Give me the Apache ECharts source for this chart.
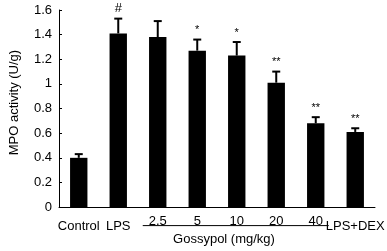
<!DOCTYPE html>
<html>
<head>
<meta charset="UTF-8">
<title>MPO activity</title>
<script src="https://cdn.jsdelivr.net/npm/echarts@6/dist/echarts.min.js"></script>
<style>
  * { margin: 0; padding: 0; }
  body { background: #fff; }
</style>
</head>
<body>
<div id="main" style="width:387px;height:251px;"></div>
<script>
var categories = ['Control', 'LPS', '2.5', '5', '10', '20', '40', 'LPS+DEX'];
var doseLabels = ['', '', '2.5', '5', '10', '20', '40', ''];
var meanValues = [0.40, 1.41, 1.38, 1.27, 1.23, 1.01, 0.68, 0.61];
var errValues = [0.03, 0.12, 0.13, 0.09, 0.11, 0.09, 0.05, 0.03];
var sigMarks = ['', '#', '', '*', '*', '**', '**', '**'];

var font = 'Liberation Sans, Arial, sans-serif';
var chart = echarts.init(document.getElementById('main'));

var errData = [];
for (var i = 0; i < categories.length; i++) {
  errData.push([i, meanValues[i], meanValues[i] + errValues[i], sigMarks[i]]);
}

var option = {
  animation: false,
  backgroundColor: '#fff',
  grid: { left: 48, right: 12, top: 10, bottom: 35 },
  xAxis: [{
    type: 'category',
    data: categories,
    axisLine: { lineStyle: { color: '#000', width: 1 } },
    axisTick: { inside: true, length: 3, lineStyle: { color: '#000' } },
    axisLabel: {
      color: '#000', fontFamily: font, fontSize: 13, margin: 13, interval: 0,
      formatter: function (v) { return doseLabels[categories.indexOf(v)] ? '' : v; }
    }
  }, {
    type: 'category',
    data: categories,
    position: 'bottom',
    axisLine: { show: false },
    axisTick: { show: false },
    axisLabel: {
      color: '#000', fontFamily: font, fontSize: 13, margin: 8, interval: 0,
      formatter: function (v) { return doseLabels[categories.indexOf(v)]; }
    },
    name: 'Gossypol (mg/kg)',
    nameLocation: 'middle',
    nameGap: 21,
    nameTextStyle: { color: '#000', fontFamily: font, fontSize: 13, padding: [0, 0, 0, 14] }
  }],
  yAxis: {
    type: 'value',
    min: 0, max: 1.6, interval: 0.2,
    name: 'MPO activity (U/g)',
    nameLocation: 'middle',
    nameGap: 38,
    nameTextStyle: { color: '#000', fontFamily: font, fontSize: 13, padding: [0, 0, 0, 12] },
    axisLine: { show: true, lineStyle: { color: '#000', width: 1 } },
    axisTick: { show: true, inside: true, length: 3, lineStyle: { color: '#000' } },
    axisLabel: { color: '#000', fontFamily: font, fontSize: 13, margin: 7 },
    splitLine: { show: false }
  },
  series: [{
    type: 'bar',
    data: meanValues,
    barWidth: '44%',
    itemStyle: { color: '#000' }
  }, {
    type: 'custom',
    data: errData,
    z: 3,
    renderItem: function (params, api) {
      var base = api.coord([api.value(0), api.value(1)]);
      var top = api.coord([api.value(0), api.value(2)]);
      var hw = 4;
      var children = [{
        type: 'line',
        shape: { x1: base[0], y1: base[1], x2: top[0], y2: top[1] },
        style: { stroke: '#000', lineWidth: 2 }
      }, {
        type: 'line',
        shape: { x1: top[0] - hw, y1: top[1], x2: top[0] + hw, y2: top[1] },
        style: { stroke: '#000', lineWidth: 2 }
      }];
      var mark = sigMarks[params.dataIndex];
      if (mark) {
        children.push({
          type: 'text',
          style: {
            text: mark,
            x: top[0], y: top[1] - 4,
            align: 'center', verticalAlign: 'bottom',
            fill: '#000', fontFamily: font,
            fontSize: mark === '#' ? 13 : 11
          }
        });
      }
      return { type: 'group', children: children };
    }
  }]
};
chart.setOption(option);

// bracket line under the gossypol doses
var left = chart.convertToPixel({ xAxisIndex: 0 }, '2.5');
var right = chart.convertToPixel({ xAxisIndex: 0 }, '40');
var axisY = chart.convertToPixel({ yAxisIndex: 0 }, 0);
chart.setOption({
  graphic: [{
    type: 'line',
    shape: { x1: left - 15, y1: axisY + 18.5, x2: right + 13, y2: axisY + 18.5 },
    style: { stroke: '#000', lineWidth: 1 }
  }]
});
</script>
</body>
</html>
